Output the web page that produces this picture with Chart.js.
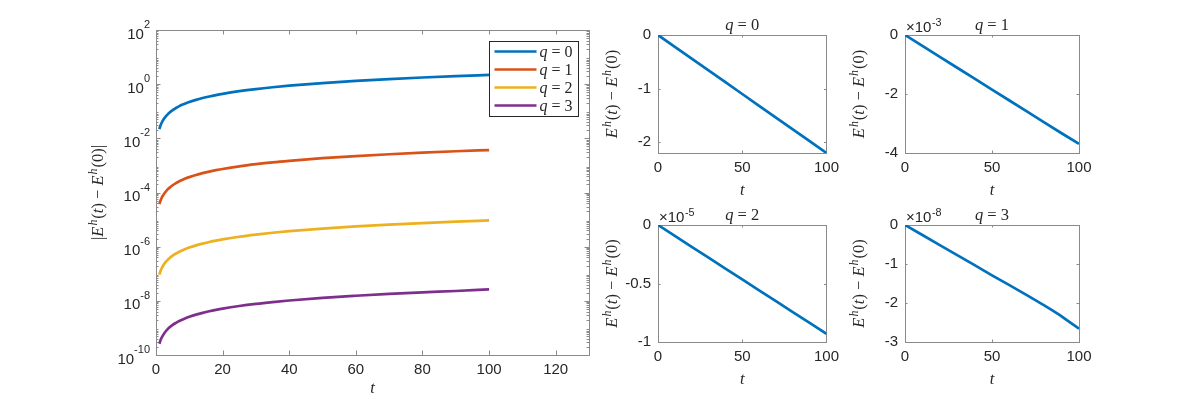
<!DOCTYPE html>
<html><head><meta charset="utf-8">
<script src="https://cdn.jsdelivr.net/npm/chart.js@4.4.1/dist/chart.umd.min.js"></script>
<style>
html,body{margin:0;padding:0;background:#fff;width:1196px;height:399px;overflow:hidden;position:relative}
canvas{position:absolute;display:block}
</style></head><body>
<canvas id="main" width="600" height="399" style="left:0px;top:0px"></canvas>
<canvas id="s0" width="245" height="200" style="left:600px;top:0px"></canvas>
<canvas id="s1" width="351" height="200" style="left:845px;top:0px"></canvas>
<canvas id="s2" width="245" height="199" style="left:600px;top:200px"></canvas>
<canvas id="s3" width="351" height="199" style="left:845px;top:200px"></canvas>
<script>
// ---------- data ----------
const tMain = [1, 1.25, 1.5, 1.75, 2, 2.5, 3, 3.5, 4, 5, 6, 7, 8, 9, 10, 12, 14, 16, 18, 20, 25, 30, 35, 40, 50, 60, 70, 80, 90, 100];
const absQ0 = [0.022, 0.0275, 0.033, 0.0385, 0.044, 0.055, 0.066, 0.077, 0.088, 0.11, 0.132, 0.154, 0.176, 0.198, 0.22, 0.264, 0.308, 0.352, 0.396, 0.44, 0.55, 0.66, 0.77, 0.88, 1.1, 1.32, 1.54, 1.76, 1.98, 2.2];
const absQ1 = [3.7e-5, 4.6e-5, 5.55e-5, 6.5e-5, 7.4e-5, 9.25e-5, 1.11e-4, 1.3e-4, 1.48e-4, 1.85e-4, 2.22e-4, 2.59e-4, 2.96e-4, 3.33e-4, 3.7e-4, 4.44e-4, 5.18e-4, 5.92e-4, 6.66e-4, 7.4e-4, 9.25e-4, 1.11e-3, 1.3e-3, 1.48e-3, 1.85e-3, 2.22e-3, 2.59e-3, 2.96e-3, 3.33e-3, 3.69e-3];
const absQ2 = [9.3e-8, 1.16e-7, 1.4e-7, 1.63e-7, 1.86e-7, 2.33e-7, 2.79e-7, 3.26e-7, 3.72e-7, 4.65e-7, 5.58e-7, 6.51e-7, 7.44e-7, 8.37e-7, 9.3e-7, 1.12e-6, 1.3e-6, 1.49e-6, 1.67e-6, 1.86e-6, 2.33e-6, 2.79e-6, 3.26e-6, 3.72e-6, 4.65e-6, 5.58e-6, 6.51e-6, 7.44e-6, 8.37e-6, 9.3e-6];
const absQ3 = [2.6e-10, 3.2e-10, 3.9e-10, 4.5e-10, 5.1e-10, 6.4e-10, 7.7e-10, 9.0e-10, 1.03e-9, 1.29e-9, 1.54e-9, 1.8e-9, 2.06e-9, 2.31e-9, 2.57e-9, 3.09e-9, 3.6e-9, 4.12e-9, 4.63e-9, 5.15e-9, 6.43e-9, 7.72e-9, 9.0e-9, 1.03e-8, 1.29e-8, 1.54e-8, 1.8e-8, 2.06e-8, 2.31e-8, 2.66e-8];
const seriesLabels = ['q = 0', 'q = 1', 'q = 2', 'q = 3'];
const seriesColors = ['#0072BD', '#D95319', '#EDB120', '#7E2F8E'];
const mainXTicks = [0, 20, 40, 60, 80, 100, 120];
const mainYTicks = [1e-10, 1e-8, 1e-6, 1e-4, 1e-2, 1, 1e2];

const tSub = [0, 10, 20, 30, 40, 50, 60, 70, 80, 90, 100];
const tSub3 = [0, 10, 20, 30, 40, 50, 60, 70, 80, 84, 89, 93, 100];
const diffQ0 = [0, -0.22, -0.44, -0.66, -0.88, -1.1, -1.32, -1.54, -1.76, -1.98, -2.2];
const diffQ1 = [0, -3.7e-4, -7.4e-4, -1.11e-3, -1.48e-3, -1.85e-3, -2.22e-3, -2.59e-3, -2.96e-3, -3.33e-3, -3.69e-3];
const diffQ2 = [0, -9.3e-7, -1.86e-6, -2.79e-6, -3.72e-6, -4.65e-6, -5.58e-6, -6.51e-6, -7.44e-6, -8.37e-6, -9.3e-6];
const diffQ3 = [0, -2.57e-9, -5.15e-9, -7.72e-9, -1.03e-8, -1.29e-8, -1.54e-8, -1.80e-8, -2.06e-8, -2.17e-8, -2.31e-8, -2.44e-8, -2.66e-8];
const subXTicks = [0, 50, 100];
const subYTicks = [[-2, -1, 0], [-4e-3, -2e-3, 0], [-1e-5, -0.5e-5, 0], [-3e-8, -2e-8, -1e-8, 0]];
const subYMin = [-2.2, -4e-3, -1e-5, -3e-8];
const subExponents = [0, -3, -5, -8];
const subTitles = ['q = 0', 'q = 1', 'q = 2', 'q = 3'];

// ---------- helpers ----------
const TXT = '#262626';
const SANS = "'Liberation Sans', Arial, Helvetica, sans-serif";
const SERIF = "'Liberation Serif', 'Times New Roman', serif";

function partFont(p, size) {
  const st = p[1];
  const small = (st === 's' || st === 'ns');
  const fs = small ? size * 0.72 : size;
  const it = (st === 'i' || st === 's') ? 'italic ' : '';
  const fam = (st === 'n' || st === 'ns') ? SANS : SERIF;
  return it + fs + 'px ' + fam;
}
function drawRich(ctx, parts, size, cx, cy, rotate, align) {
  ctx.save();
  ctx.translate(cx, cy);
  if (rotate) ctx.rotate(-Math.PI / 2);
  const widths = [];
  let total = 0;
  parts.forEach(p => { ctx.font = partFont(p, size); const w = ctx.measureText(p[0]).width + (p[2] || 0); widths.push(w); total += w; });
  let x = align === 'left' ? 0 : (align === 'right' ? -total : -total / 2);
  ctx.textBaseline = 'alphabetic';
  ctx.textAlign = 'left';
  ctx.fillStyle = TXT;
  const base = size * 0.33;
  parts.forEach((p, i) => {
    ctx.font = partFont(p, size);
    const small = (p[1] === 's' || p[1] === 'ns');
    const dy = small ? -size * 0.42 : 0;
    ctx.fillText(p[0], x + (p[2] || 0), base + dy);
    x += widths[i];
  });
  ctx.restore();
}

// axes box + inward ticks (MATLAB style)
const boxPlugin = {
  id: 'matBox',
  beforeDatasetsDraw(chart, args, opts) {
    const {ctx, chartArea: a} = chart;
    const xs = chart.scales.x, ys = chart.scales.y;
    const L = opts.tickLen || 3;
    ctx.save();
    ctx.strokeStyle = '#8a8a8a';
    ctx.lineWidth = 1;
    ctx.beginPath();
    xs.ticks.forEach(t => {
      const px = Math.round(xs.getPixelForValue(t.value)) + 0.5;
      ctx.moveTo(px, a.bottom); ctx.lineTo(px, a.bottom - L);
      ctx.moveTo(px, a.top); ctx.lineTo(px, a.top + L);
    });
    ys.ticks.forEach(t => {
      const py = Math.round(ys.getPixelForValue(t.value)) + 0.5;
      ctx.moveTo(a.left, py); ctx.lineTo(a.left + L, py);
      ctx.moveTo(a.right, py); ctx.lineTo(a.right - L, py);
    });
    if (opts.minorLog) {
      const lo = Math.round(Math.log10(ys.min)), hi = Math.round(Math.log10(ys.max));
      const m = L * 0.55;
      for (let e = lo; e < hi; e++) {
        for (let k = 2; k <= 9; k++) {
          const py = Math.round(ys.getPixelForValue(k * Math.pow(10, e))) + 0.5;
          ctx.moveTo(a.left, py); ctx.lineTo(a.left + m, py);
          ctx.moveTo(a.right, py); ctx.lineTo(a.right - m, py);
        }
      }
    }
    ctx.stroke();
    ctx.strokeRect(Math.round(a.left) + 0.5, Math.round(a.top) + 0.5, Math.round(a.right - a.left), Math.round(a.bottom - a.top));
    ctx.restore();
  }
};

// power-of-ten tick labels for the log axis
const logLabelPlugin = {
  id: 'logLabels',
  afterDraw(chart, args, opts) {
    if (!opts.show) return;
    const {ctx, chartArea: a} = chart;
    const ys = chart.scales.y;
    ctx.save();
    ctx.fillStyle = TXT;
    ctx.textBaseline = 'alphabetic';
    ctx.textAlign = 'left';
    ys.ticks.forEach(t => {
      const py = ys.getPixelForValue(t.value);
      const ex = String(Math.round(Math.log10(t.value)));
      ctx.font = '15px ' + SANS;
      const wb = ctx.measureText('10').width;
      ctx.font = '11px ' + SANS;
      const we = ctx.measureText(ex).width;
      const x0 = a.left - opts.pad - wb - we;
      ctx.font = '15px ' + SANS;
      ctx.fillText('10', x0, py + 8.5);
      ctx.font = '11px ' + SANS;
      ctx.fillText(ex, x0 + wb, py - 2);
    });
    ctx.restore();
  }
};

// math-style labels
const labelPlugin = {
  id: 'mathLabels',
  afterDraw(chart, args, opts) {
    const {ctx, chartArea: a} = chart;
    (opts.items || []).forEach(it => {
      let x, y, rot = false, align = 'center';
      if (it.where === 'yleft') { x = a.left - it.off; y = (a.top + a.bottom) / 2; rot = true; }
      else if (it.where === 'xbottom') { x = (a.left + a.right) / 2; y = a.bottom + it.off; }
      else if (it.where === 'title') { x = (a.left + a.right) / 2; y = a.top - it.off; }
      else if (it.where === 'corner') { x = a.left + (it.dx || 0); y = a.top - it.off; align = 'left'; }
      drawRich(ctx, it.parts, it.size, x, y, rot, align);
    });
  }
};

// legend drawn inside the axes box
const legendPlugin = {
  id: 'boxLegend',
  afterDraw(chart, args, opts) {
    if (!opts.show) return;
    const {ctx, chartArea: a} = chart;
    const w = opts.w, h = opts.h;
    const x0 = Math.round(a.right - opts.right - w) + 0.5, y0 = Math.round(a.top + opts.top) + 0.5;
    ctx.save();
    ctx.fillStyle = '#fff';
    ctx.fillRect(x0, y0, w, h);
    ctx.strokeStyle = '#262626';
    ctx.lineWidth = 1;
    ctx.strokeRect(x0, y0, w, h);
    chart.data.datasets.forEach((ds, i) => {
      const yy = y0 + opts.first + i * opts.step;
      ctx.strokeStyle = ds.borderColor;
      ctx.lineWidth = ds.borderWidth;
      ctx.beginPath(); ctx.moveTo(x0 + 5, yy); ctx.lineTo(x0 + 47, yy); ctx.stroke();
      const lab = ds.label;
      drawRich(ctx, [[lab.charAt(0), 'i'], [lab.slice(1), 'r']], 16, x0 + 50, yy, false, 'left');
    });
    ctx.restore();
  }
};

Chart.register(boxPlugin, logLabelPlugin, labelPlugin, legendPlugin);
Chart.defaults.font.family = SANS;
Chart.defaults.color = TXT;

const yLabelAbs = [['|', 'r'], ['E', 'i'], ['h', 's', 1], ['(', 'r', 1], ['t', 'i'], [')', 'r'], [' − ', 'r'], ['E', 'i'], ['h', 's', 1], ['(0)', 'r', 1], ['|', 'r']];
const yLabelDiff = [['E', 'i'], ['h', 's', 1], ['(', 'r', 1], ['t', 'i'], [')', 'r'], [' − ', 'r'], ['E', 'i'], ['h', 's', 1], ['(0)', 'r', 1]];

// ---------- main chart ----------
new Chart(document.getElementById('main'), {
  type: 'line',
  data: {
    datasets: [absQ0, absQ1, absQ2, absQ3].map((arr, i) => ({
      label: seriesLabels[i],
      data: tMain.map((t, j) => ({x: t, y: arr[j]})),
      borderColor: seriesColors[i],
      backgroundColor: seriesColors[i],
      borderWidth: 2.7,
      pointRadius: 0,
      cubicInterpolationMode: 'monotone',
      fill: false
    }))
  },
  options: {
    responsive: false, animation: false, devicePixelRatio: 1,
    layout: {padding: {left: 0, right: 11, top: 30, bottom: 0}},
    plugins: {
      legend: {display: false}, tooltip: {enabled: false},
      matBox: {tickLen: 4.5, minorLog: true},
      logLabels: {show: true, pad: 6},
      boxLegend: {show: true, right: 11, top: 11, w: 89, h: 75, first: 10, step: 18},
      mathLabels: {items: [
        {where: 'yleft', off: 58, size: 16.5, parts: yLabelAbs},
        {where: 'xbottom', off: 33, size: 16.5, parts: [['t', 'i']]}
      ]}
    },
    scales: {
      x: {
        type: 'linear', min: 0, max: 130,
        afterBuildTicks: s => { s.ticks = mainXTicks.map(v => ({value: v})); },
        afterFit: s => { s.height = 44; },
        grid: {display: false, drawTicks: false}, border: {display: false},
        ticks: {padding: 6, font: {size: 15}, color: TXT, maxRotation: 0, callback: v => String(v)}
      },
      y: {
        type: 'logarithmic', min: 1e-10, max: 1e2,
        afterBuildTicks: s => { s.ticks = mainYTicks.map(v => ({value: v})); },
        afterFit: s => { s.width = 156; },
        grid: {display: false, drawTicks: false}, border: {display: false},
        ticks: {display: false}
      }
    }
  }
});

// ---------- subplots ----------
const subDefs = [
  {id: 's0', t: tSub, d: diffQ0, yW: 58, padR: 13, padT: 35, xH: 47},
  {id: 's1', t: tSub, d: diffQ1, yW: 60, padR: 117, padT: 35, xH: 47},
  {id: 's2', t: tSub, d: diffQ2, yW: 58, padR: 13, padT: 25, xH: 57},
  {id: 's3', t: tSub3, d: diffQ3, yW: 60, padR: 117, padT: 25, xH: 57}
];
subDefs.forEach((sd, i) => {
  const ex = subExponents[i];
  const scaleF = Math.pow(10, ex);
  const items = [
    {where: 'yleft', off: 46, size: 16.5, parts: yLabelDiff},
    {where: 'xbottom', off: 37, size: 16.5, parts: [['t', 'i']]},
    {where: 'title', off: 10, size: 16.5, parts: [[subTitles[i].charAt(0), 'i'], [subTitles[i].slice(1), 'r']]}
  ];
  if (ex !== 0) items.push({where: 'corner', off: 8, dx: 1, size: 15, parts: [['×10', 'n'], [String(ex), 'ns', 0.5]]});
  new Chart(document.getElementById(sd.id), {
    type: 'line',
    data: {
      datasets: [{
        label: subTitles[i],
        data: sd.t.map((t, j) => ({x: t, y: sd.d[j]})),
        borderColor: '#0072BD', borderWidth: 2.7, pointRadius: 0, tension: 0, fill: false
      }]
    },
    options: {
      responsive: false, animation: false, devicePixelRatio: 1,
      layout: {padding: {left: 0, right: sd.padR, top: sd.padT, bottom: 0}},
      plugins: {
        legend: {display: false}, tooltip: {enabled: false},
        matBox: {tickLen: 2.5},
        mathLabels: {items: items}
      },
      scales: {
        x: {
          type: 'linear', min: 0, max: 100,
          afterBuildTicks: s => { s.ticks = subXTicks.map(v => ({value: v})); },
          afterFit: s => { s.height = sd.xH; },
          grid: {display: false, drawTicks: false}, border: {display: false},
          ticks: {padding: 6, font: {size: 15}, color: TXT, maxRotation: 0, callback: v => String(v)}
        },
        y: {
          type: 'linear', min: subYMin[i], max: 0,
          afterBuildTicks: s => { s.ticks = subYTicks[i].map(v => ({value: v})); },
          afterFit: s => { s.width = sd.yW; },
          grid: {display: false, drawTicks: false}, border: {display: false},
          ticks: {padding: 7, font: {size: 15}, color: TXT, callback: v => String(Number((v / scaleF).toFixed(6)))}
        }
      }
    }
  });
});
</script>
</body></html>
